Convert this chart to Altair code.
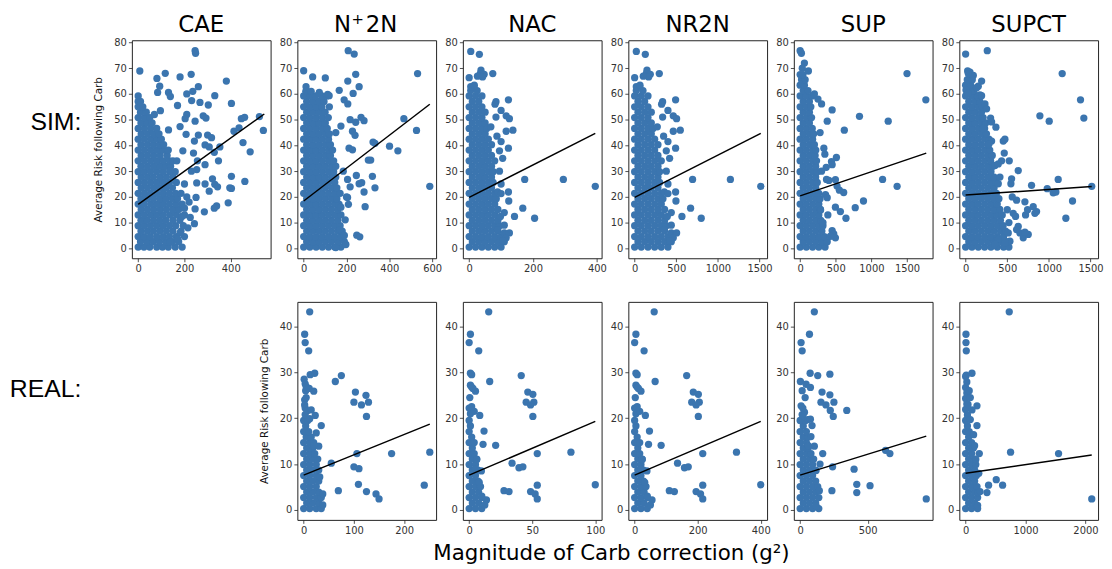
import altair as alt
import pandas as pd

BLUE = "#3b75af"

# ---------------- column / row labels ----------------
col_names = ["CAE", "N\u207a2N", "NAC", "NR2N", "SUP", "SUPCT"]
n2n_parts = ["N", "+", "2N"]
row_names = ["SIM:", "REAL:"]
y_title = "Average Risk following Carb"
x_title = "Magnitude of Carb correction (g\u00b2)"

# ---------------- axis ticks / domains ----------------
sim_y_ticks = [0, 10, 20, 30, 40, 50, 60, 70, 80]
real_y_ticks = [0, 10, 20, 30, 40]
sim_y_dom = [-3.85, 80.85]
real_y_dom = [-2.16, 45.36]
sim_x_ticks = [[0, 200, 400], [0, 200, 400, 600], [0, 200, 400],
               [0, 500, 1000, 1500], [0, 500, 1000, 1500], [0, 500, 1000, 1500]]
sim_x_dom = [[-27.3, 572.3], [-29.5, 618.5], [-19.75, 414.75],
             [-75.75, 1590.75], [-88.5, 1858.5], [-75.75, 1590.75]]
real_x_ticks = [[0, 100, 200], [0, 50, 100], [0, 200, 400], [0, 500], [0, 1000, 2000]]
real_x_dom = [[-12.55, 263.55], [-5, 105], [-20, 420], [-46.65, 979.65], [-105.25, 2210.25]]

# ---------------- regression lines (x0, y0, x1, y1) ----------------
sim_lines = [(0, 17.1, 545, 52.2), (0, 18.4, 589, 56.0), (0, 19.8, 395, 44.7),
             (0, 19.8, 1515, 44.7), (0, 20.4, 1770, 37.0), (0, 20.7, 1515, 24.0)]
real_lines = [(0, 7.6, 251, 18.7), (0, 7.6, 100, 19.3), (0, 7.6, 400, 19.3),
              (0, 7.6, 933, 16.1), (0, 8.0, 2105, 12.0)]

# ---------------- SIM data: dense rows (y, [x...]) + scattered (x, y) ----------------
sim_cae_dense = [
    (0.5, [0, 25, 50, 80, 105, 130, 160, 190]), (2.6, [10, 38, 65, 92, 120, 148, 175]),
    (4.6, [0, 25, 52, 80, 108, 135, 165, 200]), (6.7, [12, 40, 66, 94, 122, 150, 185]),
    (8.8, [0, 26, 53, 80, 107, 135, 162, 195]), (10.9, [12, 38, 66, 93, 120, 150, 180]),
    (13.0, [0, 27, 54, 80, 108, 136, 165, 200]), (15.1, [13, 40, 67, 95, 122, 150, 175]),
    (17.2, [0, 26, 54, 81, 108, 135, 162, 190]), (19.3, [12, 40, 66, 94, 120, 148, 170]),
    (21.4, [0, 27, 53, 80, 108, 135, 162, 185]), (23.5, [13, 40, 67, 94, 120, 148]),
    (25.6, [0, 27, 54, 81, 108, 135, 165]), (27.7, [13, 40, 66, 95, 122, 150]),
    (29.8, [0, 26, 53, 80, 108, 136, 160]), (31.9, [12, 40, 67, 94, 120, 140]),
    (34.0, [0, 27, 54, 81, 108, 135, 150]), (36.1, [13, 40, 67, 95, 125]),
    (38.2, [0, 27, 54, 81, 108, 130]), (40.3, [12, 40, 66, 92, 110]),
    (42.4, [0, 27, 54, 80, 100]), (44.5, [13, 40, 66, 90]),
    (46.6, [0, 27, 54, 80]), (48.7, [12, 38, 60]), (50.8, [0, 26, 50]),
    (52.9, [10, 35]), (55.0, [0, 20]), (57.1, [0, 10]), (59.2, [0]),
]
sim_cae_scatter = [
    (7, 68.9), (246, 76.8), (248, 75.8), (81, 66), (117, 68), (181, 66.6), (229, 67.6), (93, 63),
    (381, 65), (260, 62.8), (210, 60), (236, 61), (331, 59.3), (131, 60.6), (139, 59), (84, 60.6),
    (403, 56.3), (231, 57.4), (303, 55.7), (170, 55.5), (267, 56.7), (96, 53.5), (70, 52), (210, 52),
    (281, 51.5), (293, 50.6), (246, 49.4), (524, 51.2), (446, 50.4), (460, 50.9), (541, 45.8),
    (414, 45.5), (436, 46.8), (203, 50.4), (131, 46), (181, 47.3), (207, 44.3), (260, 44), (300, 44),
    (317, 43), (243, 41.7), (353, 39.4), (329, 37.3), (453, 41.1), (484, 37.5), (239, 37), (193, 37.9),
    (289, 40.2), (307, 39.4), (256, 34), (289, 32.5), (347, 34), (167, 34), (253, 30.6), (139, 30.2),
    (321, 27), (403, 28), (461, 26), (331, 24.9), (343, 23.9), (289, 25), (253, 25.4), (307, 22.2),
    (396, 23.5), (403, 23.3), (210, 20), (250, 19.8), (389, 17.7), (339, 16.5), (329, 15.6),
    (200, 15.6), (246, 15.3), (286, 14.2), (189, 12.4), (243, 9.6), (181, 6), (170, 3.8), (139, 2.4),
    (220, 18), (230, 30), (215, 8), (200, 25), (225, 12),
]

sim_n2n_dense = [
    (0.5, [0, 29, 58, 87, 116, 145, 174]), (2.6, [14, 43, 72, 101, 130, 160, 190]),
    (4.6, [0, 29, 58, 87, 116, 145, 174]), (6.7, [14, 43, 72, 101, 130, 160, 180]),
    (8.8, [0, 29, 58, 87, 116, 145, 170]), (10.9, [14, 43, 72, 101, 130, 160]),
    (13.0, [0, 29, 58, 87, 116, 145, 174]), (15.1, [14, 43, 72, 101, 130, 160]),
    (17.2, [0, 29, 58, 87, 116, 145, 165]), (19.3, [14, 43, 72, 101, 130, 155]),
    (21.4, [0, 29, 58, 87, 116, 145, 170]), (23.5, [14, 43, 72, 101, 130, 155]),
    (25.6, [0, 29, 58, 87, 116, 145]), (27.7, [14, 43, 72, 101, 130, 150]),
    (29.8, [0, 29, 58, 87, 116, 140]), (31.9, [14, 43, 72, 101, 130, 150]),
    (34.0, [0, 29, 58, 87, 116, 140]), (36.1, [14, 43, 72, 101, 125]),
    (38.2, [0, 29, 58, 87, 116, 135]), (40.3, [14, 43, 72, 101, 125]),
    (42.4, [0, 29, 58, 87, 116]), (44.5, [14, 43, 72, 101, 120]),
    (46.6, [0, 29, 58, 87, 110]), (48.7, [14, 43, 72, 101]),
    (50.8, [0, 29, 58, 87, 115]), (52.9, [14, 43, 72, 100]),
    (55.0, [0, 29, 58, 85, 120]), (57.1, [14, 43, 70, 95]),
    (59.2, [0, 29, 55, 85, 110]), (61.0, [10, 35]),
]
sim_n2n_scatter = [
    (0, 69), (42, 66.6), (101, 66.2), (11, 62.8), (208, 76.8), (236, 75.5), (243, 67.6), (206, 65),
    (259, 62.8), (166, 61.4), (231, 60.2), (73, 60.6), (112, 59.8), (119, 59.3), (189, 57.7),
    (206, 56.1), (532, 67.9), (268, 50.9), (282, 49.6), (217, 50), (243, 49), (468, 50.4), (527, 45.8),
    (228, 45.5), (240, 43.9), (324, 41.3), (333, 40.8), (401, 39.7), (440, 37.9), (212, 38.9),
    (228, 38.3), (150, 45), (174, 47.5), (302, 34.3), (313, 34.3), (321, 28), (246, 28.3), (205, 26.8),
    (217, 23.9), (259, 25.1), (271, 25.5), (333, 23.5), (589, 24.1), (282, 21.9), (205, 19.8),
    (209, 17.1), (287, 16.2), (174, 16), (194, 11.1), (169, 7.3), (248, 5.1), (262, 4.5), (197, 1.5),
    (150, 0.3), (185, 30), (200, 20), (190, 5),
]

sim_nac_dense = [
    (0.5, [0, 20, 40, 60, 80, 100]), (2.6, [10, 30, 50, 70, 90, 110]),
    (4.6, [0, 20, 40, 60, 80, 100]), (6.7, [10, 30, 50, 70, 90]),
    (8.8, [0, 20, 40, 60, 80, 95]), (10.9, [10, 30, 50, 70, 90]),
    (13.0, [0, 20, 40, 60, 80]), (15.1, [10, 30, 50, 70, 90]),
    (17.2, [0, 20, 40, 60, 80]), (19.3, [10, 30, 50, 70, 85]),
    (21.4, [0, 20, 40, 60, 80]), (23.5, [10, 30, 50, 70]),
    (25.6, [0, 20, 40, 60, 75]), (27.7, [10, 30, 50, 70]),
    (29.8, [0, 20, 40, 60, 75]), (31.9, [10, 30, 50, 70]),
    (34.0, [0, 20, 40, 60, 80]), (36.1, [10, 30, 50, 70]),
    (38.2, [0, 20, 40, 60]), (40.3, [10, 30, 50, 70]),
    (42.4, [0, 20, 40, 60]), (44.5, [10, 30, 50]),
    (46.6, [0, 20, 40, 55]), (48.7, [10, 30, 50]),
    (50.8, [0, 20, 40]), (52.9, [10, 30, 50]),
    (55.0, [0, 20, 40]), (57.1, [10, 30]),
    (59.2, [0, 20, 40]), (61.3, [5, 25]), (63.0, [15]),
]
sim_nac_scatter = [
    (5, 76.5), (32, 75.4), (0, 66.3), (37, 69.2), (35, 67.9), (47, 67.6), (42, 66.6), (26, 66.9),
    (74, 67.9), (5, 62.8), (16, 63.4), (84, 57), (81, 56), (123, 57.7), (100, 53.6), (116, 51.5),
    (126, 50.4), (84, 51), (137, 45.9), (116, 45.5), (68, 47.2), (100, 41.5), (123, 38.9), (87, 43.6),
    (95, 37.9), (174, 26.8), (295, 26.8), (395, 24.1), (89, 21.9), (100, 21.3), (123, 21.9),
    (124, 18.4), (98, 12.4), (110, 13.9), (142, 12.4), (168, 15.6), (205, 11.7), (110, 6), (126, 6),
    (116, 4.1), (89, 7.3), (105, 35), (95, 30), (100, 25), (105, 3), (110, 9),
]

sim_nr2n_dense = [
    (0.5, [0, 80, 160, 240, 320, 400]), (2.6, [40, 120, 200, 280, 360, 440]),
    (4.6, [0, 80, 160, 240, 320, 400]), (6.7, [40, 120, 200, 280, 360]),
    (8.8, [0, 80, 160, 240, 320, 380]), (10.9, [40, 120, 200, 280, 360]),
    (13.0, [0, 80, 160, 240, 320]), (15.1, [40, 120, 200, 280, 360]),
    (17.2, [0, 80, 160, 240, 320]), (19.3, [40, 120, 200, 280, 340]),
    (21.4, [0, 80, 160, 240, 320]), (23.5, [40, 120, 200, 280]),
    (25.6, [0, 80, 160, 240, 300]), (27.7, [40, 120, 200, 280]),
    (29.8, [0, 80, 160, 240, 300]), (31.9, [40, 120, 200, 280]),
    (34.0, [0, 80, 160, 240, 320]), (36.1, [40, 120, 200, 280]),
    (38.2, [0, 80, 160, 240]), (40.3, [40, 120, 200, 280]),
    (42.4, [0, 80, 160, 240]), (44.5, [40, 120, 200]),
    (46.6, [0, 80, 160, 220]), (48.7, [40, 120, 200]),
    (50.8, [0, 80, 160]), (52.9, [40, 120, 200]),
    (55.0, [0, 80, 160]), (57.1, [40, 120]),
    (59.2, [0, 80, 160]), (61.3, [20, 100]), (63.0, [60]),
]
sim_nr2n_scatter = [
    (20, 76.5), (128, 75.4), (0, 66.3), (148, 69.2), (140, 67.9), (188, 67.6), (168, 66.6),
    (104, 66.9), (296, 67.9), (20, 62.8), (64, 63.4), (336, 57), (324, 56), (492, 57.7), (400, 53.6),
    (464, 51.5), (504, 50.4), (336, 51), (548, 45.9), (464, 45.5), (272, 47.2), (400, 41.5),
    (492, 38.9), (348, 43.6), (380, 37.9), (696, 26.8), (1150, 26.8), (1515, 24.1), (356, 21.9),
    (400, 21.3), (492, 21.9), (496, 18.4), (392, 12.4), (440, 13.9), (568, 12.4), (672, 15.6),
    (800, 11.7), (440, 6), (504, 6), (464, 4.1), (356, 7.3), (420, 35), (380, 30), (400, 25),
    (420, 3), (440, 9),
]

sim_sup_dense = [
    (0.5, [0, 87, 175, 262, 350]), (2.6, [43, 130, 218, 305, 380]),
    (4.6, [0, 87, 175, 262, 340]), (6.7, [43, 130, 218, 305]),
    (8.8, [0, 87, 175, 262, 320]), (10.9, [43, 130, 218, 290]),
    (13.0, [0, 87, 175, 262]), (15.1, [43, 130, 218, 285]),
    (17.2, [0, 87, 175, 262]), (19.3, [43, 130, 218, 280]),
    (21.4, [0, 87, 175, 262]), (23.5, [43, 130, 218]),
    (25.6, [0, 87, 175, 240]), (27.7, [43, 130, 218]),
    (29.8, [0, 87, 175, 240]), (31.9, [43, 130, 218]),
    (34.0, [0, 87, 175, 230]), (36.1, [43, 130, 210]),
    (38.2, [0, 87, 175, 220]), (40.3, [43, 130, 200]),
    (42.4, [0, 87, 175]), (44.5, [43, 130, 190]),
    (46.6, [0, 87, 170]), (48.7, [43, 130]),
    (50.8, [0, 87, 160]), (52.9, [43, 130]),
    (55.0, [0, 87, 150]), (57.1, [43, 130]),
    (59.2, [0, 87, 170]), (61.3, [43, 110]),
    (63.4, [0, 60]), (65.5, [20, 70]), (67.5, [0, 40]),
]
sim_sup_scatter = [
    (0, 76.8), (18, 75.8), (116, 68.9), (1500, 67.9), (1764, 57.7), (301, 56.1), (449, 53.8),
    (380, 49.4), (833, 51.3), (1236, 49.4), (620, 45.9), (333, 38.9), (347, 36.6), (509, 35.3),
    (440, 33.7), (449, 32.5), (366, 31.5), (1157, 26.8), (1361, 24.1), (370, 26.8), (403, 26.4),
    (495, 26.7), (518, 24.2), (551, 22.6), (611, 21.7), (356, 20.9), (380, 19.7), (889, 18.4),
    (773, 15.8), (495, 16), (565, 14.3), (287, 14.9), (643, 11.7), (389, 13), (449, 6.9), (472, 5.6),
    (495, 4.1), (426, 4.7), (300, 30), (320, 10), (280, 45), (250, 58), (200, 60), (60, 72), (30, 70),
]

sim_supct_dense = [
    (0.5, [0, 76, 152, 228, 304, 380, 456, 520]), (2.6, [38, 114, 190, 266, 342, 418, 490]),
    (4.6, [0, 76, 152, 228, 304, 380, 456]), (6.7, [38, 114, 190, 266, 342, 418, 480]),
    (8.8, [0, 76, 152, 228, 304, 380, 450]), (10.9, [38, 114, 190, 266, 342, 418]),
    (13.0, [0, 76, 152, 228, 304, 380, 440]), (15.1, [38, 114, 190, 266, 342, 410]),
    (17.2, [0, 76, 152, 228, 304, 380]), (19.3, [38, 114, 190, 266, 342, 400]),
    (21.4, [0, 76, 152, 228, 304, 370]), (23.5, [38, 114, 190, 266, 342]),
    (25.6, [0, 76, 152, 228, 304, 370]), (27.7, [38, 114, 190, 266, 342]),
    (29.8, [0, 76, 152, 228, 304]), (31.9, [38, 114, 190, 266, 330]),
    (34.0, [0, 76, 152, 228, 300]), (36.1, [38, 114, 190, 266, 320]),
    (38.2, [0, 76, 152, 228, 290]), (40.3, [38, 114, 190, 266]),
    (42.4, [0, 76, 152, 228, 280]), (44.5, [38, 114, 190, 250]),
    (46.6, [0, 76, 152, 228]), (48.7, [38, 114, 190, 240]),
    (50.8, [0, 76, 152, 210]), (52.9, [38, 114, 190]),
    (55.0, [0, 76, 152, 200]), (57.1, [38, 114, 170]),
    (59.2, [0, 76, 140]), (61.3, [38, 100]), (63.4, [0, 60]), (65.5, [20, 80]),
]
sim_supct_scatter = [
    (0, 75.5), (260, 76.8), (24, 68.9), (52, 68.5), (92, 67.2), (32, 67.9), (192, 65), (152, 63),
    (132, 62.4), (4, 61.5), (32, 60.2), (152, 59), (172, 59.6), (192, 59.3), (232, 56.1), (252, 54.2),
    (1160, 67.9), (1380, 57.7), (892, 51.5), (1004, 49.4), (1420, 50.6), (300, 50.6), (312, 49.1),
    (364, 47.1), (212, 46.6), (452, 41.7), (472, 42.4), (312, 41.7), (280, 40.5), (464, 37),
    (432, 34), (524, 34), (352, 32.2), (392, 32.8), (632, 30.2), (552, 27), (544, 25.1), (392, 25.1),
    (412, 27.7), (1112, 26.8), (1515, 24.1), (792, 24.5), (980, 23.2), (1052, 21.6), (1084, 21.9),
    (1284, 18.4), (1204, 11.7), (612, 18.7), (712, 18.1), (720, 13), (744, 15), (812, 16.2),
    (832, 13.6), (852, 14.3), (572, 13.6), (600, 12.4), (632, 8.5), (612, 7.3), (652, 6), (692, 4.1),
    (752, 5.4), (712, 6.3), (512, 6), (532, 2.8), (472, 2.2), (392, 3.5), (352, 1.5), (560, 20),
    (500, 15), (520, 10),
]

# ---------------- REAL data ----------------
real_n2n_dense = [
    (0.3, [0, 12, 25, 35]), (1.5, [6, 18, 30]), (2.7, [0, 12, 25, 35]), (3.9, [6, 18, 30]),
    (5.1, [0, 12, 25]), (6.3, [6, 18, 30]), (7.5, [0, 12, 25]), (8.7, [6, 18, 30]),
    (9.9, [0, 12, 25]), (11.1, [6, 18, 28]), (12.3, [0, 12, 22]), (13.5, [6, 18]),
    (14.7, [0, 12, 20]), (15.9, [5, 15]), (17.1, [0, 10]), (18.3, [4]), (19.5, [0, 8]),
    (20.8, [3]), (24.0, [2]), (26.0, [4]), (28.5, [1]),
]
real_n2n_scatter = [
    (12, 43.2), (2, 38.3), (3, 36.5), (10, 34.7), (13, 29.5), (22, 29.8), (3, 27.5), (5, 26.9),
    (11, 26.5), (20, 25.9), (5, 24.5), (2, 22.9), (3, 22.2), (7, 21.6), (15, 21.8), (12, 19.9),
    (23, 20.6), (35, 18.4), (30, 13.9), (63, 28), (75, 29.3), (100, 23.5), (103, 25.7), (115, 22.9),
    (124, 25), (129, 23.5), (125, 20.4), (106, 12.3), (100, 9.4), (110, 9), (175, 12.3), (251, 12.6),
    (240, 5.4), (109, 5.6), (125, 4), (144, 3.5), (150, 2.4), (69, 4.2), (55, 10.2), (32, 7.2),
    (38, 3.5), (38, 1.1), (25, 16.8), (20, 14),
]

real_nac_dense = [
    (0.3, [0, 5, 10]), (1.5, [2.5, 7.5]), (2.7, [0, 5, 10]), (3.9, [2.5, 7.5]), (5.1, [0, 5, 9]),
    (6.3, [2.5, 7]), (7.5, [0, 5]), (8.7, [2.5, 7]), (9.9, [0, 5]), (11.1, [2.5, 6]), (12.3, [0, 4]),
    (13.5, [2.5]), (14.7, [0, 4]), (15.9, [2]), (17.1, [0]), (18.3, [1]), (19.5, [0]), (21.0, [1]),
    (22.2, [0]),
]
real_nac_scatter = [
    (15.5, 43.2), (1, 38.3), (0, 36.5), (7.6, 34.7), (1, 29.8), (2, 29.5), (1, 27.2), (2, 26.8),
    (3, 26.5), (5, 25.9), (16.3, 28), (41.3, 29.3), (46.5, 25.7), (50.5, 25.2), (51.3, 23.5),
    (45.2, 23.5), (48.7, 22.9), (50.5, 20.4), (0.5, 24.5), (8.4, 20.6), (11.8, 17.2), (11, 14.3),
    (21, 14.1), (54, 12.3), (80.7, 12.6), (100, 5.5), (34, 10.2), (39.5, 9.2), (42.6, 9.4), (9.7, 8.5),
    (27.6, 4.2), (31.6, 4), (48.7, 4), (52.3, 3.5), (54, 2.4), (54, 5.4), (13.7, 2.2), (12.4, 1.1),
    (6, 11), (5, 9), (8, 6), (10, 3), (4, 21.5), (2, 22.5),
]

real_nr2n_dense = [
    (0.3, [0, 20, 40]), (1.5, [10, 30]), (2.7, [0, 20, 40]), (3.9, [10, 30]), (5.1, [0, 20, 36]),
    (6.3, [10, 28]), (7.5, [0, 20]), (8.7, [10, 28]), (9.9, [0, 20]), (11.1, [10, 24]), (12.3, [0, 16]),
    (13.5, [10]), (14.7, [0, 16]), (15.9, [8]), (17.1, [0]), (18.3, [4]), (19.5, [0]), (21.0, [4]),
    (22.2, [0]),
]
real_nr2n_scatter = [
    (62, 43.2), (4, 38.3), (0, 36.5), (30, 34.7), (4, 29.8), (8, 29.5), (4, 27.2), (8, 26.8),
    (12, 26.5), (20, 25.9), (65, 28), (165, 29.3), (186, 25.7), (202, 25.2), (205, 23.5), (181, 23.5),
    (195, 22.9), (202, 20.4), (2, 24.5), (34, 20.6), (47, 17.2), (44, 14.3), (84, 14.1), (216, 12.3),
    (323, 12.6), (400, 5.5), (136, 10.2), (158, 9.2), (170, 9.4), (39, 8.5), (110, 4.2), (126, 4),
    (195, 4), (209, 3.5), (216, 2.4), (216, 5.4), (55, 2.2), (50, 1.1), (24, 11), (20, 9), (32, 6),
    (40, 3), (16, 21.5), (8, 22.5),
]

real_sup_dense = [
    (0.3, [0, 46, 92, 138]), (1.5, [23, 69, 115]), (2.7, [0, 46, 92, 138]), (3.9, [23, 69, 115]),
    (5.1, [0, 46, 92, 130]), (6.3, [23, 69, 115]), (7.5, [0, 46, 92]), (8.7, [23, 69, 110]),
    (9.9, [0, 46, 92]), (11.1, [23, 69, 100]), (12.3, [0, 46, 80]), (13.5, [23, 60]),
    (14.7, [0, 46]), (15.9, [23, 60]), (17.1, [0, 46]), (18.3, [23]), (19.5, [0, 40]), (20.8, [15]),
]
real_sup_scatter = [
    (105, 43.2), (69, 38.3), (7, 36.5), (15, 34.7), (74, 29.8), (130, 29.3), (220, 29.6), (2, 28),
    (15, 26), (44, 27.4), (76, 26.7), (162, 25.7), (220, 25.1), (250, 23.5), (154, 23.5), (191, 22.9),
    (223, 21.7), (245, 20.4), (345, 21.7), (37, 24.5), (7, 22.7), (20, 22.2), (32, 21.3), (20, 20.6),
    (56, 19.7), (76, 19.8), (88, 18.4), (105, 13.9), (167, 12.3), (240, 9.4), (399, 8.9), (632, 13),
    (664, 12.3), (419, 5.6), (419, 3.8), (517, 5.3), (235, 4.2), (933, 2.4), (147, 10), (118, 8.6),
    (142, 4.2), (118, 0.9), (80, 16), (60, 14),
]

real_supct_dense = [
    (0.3, [0, 100, 200]), (1.5, [50, 150]), (2.7, [0, 100, 200]), (3.9, [50, 150]),
    (5.1, [0, 100, 190]), (6.3, [50, 150]), (7.5, [0, 100, 180]), (8.7, [50, 150]),
    (9.9, [0, 100, 170]), (11.1, [50, 150]), (12.3, [0, 100]), (13.5, [50, 130]), (14.7, [0, 100]),
    (15.9, [50]), (17.1, [0, 60]), (18.3, [30]), (19.5, [0]), (20.7, [30]), (21.9, [0]), (23.1, [20]),
    (24.3, [0]), (25.5, [20]), (26.7, [0]), (27.9, [20]), (29.1, [0]),
]
real_supct_scatter = [
    (728, 43.2), (6, 38.3), (6, 36.5), (11, 34.7), (106, 29.8), (11, 29.4), (78, 24.5), (189, 22.7),
    (189, 18.4), (133, 16.4), (228, 12.3), (750, 12.6), (1551, 12.3), (2105, 2.4), (356, 3.8),
    (383, 5.4), (511, 6.6), (617, 5.4), (206, 3.8), (78, 19.7), (106, 21.8), (150, 14), (170, 11),
    (220, 8), (240, 4), (200, 1), (60, 26), (40, 23),
]

sim_sets = [(sim_cae_dense, sim_cae_scatter), (sim_n2n_dense, sim_n2n_scatter),
            (sim_nac_dense, sim_nac_scatter), (sim_nr2n_dense, sim_nr2n_scatter),
            (sim_sup_dense, sim_sup_scatter), (sim_supct_dense, sim_supct_scatter)]
real_sets = [(real_n2n_dense, real_n2n_scatter), (real_nac_dense, real_nac_scatter),
             (real_nr2n_dense, real_nr2n_scatter), (real_sup_dense, real_sup_scatter),
             (real_supct_dense, real_supct_scatter)]

W, H = 140, 220
TITLE_SIZE = 23


def make_df(dense, scatter):
    xs, ys = [], []
    for y, row in dense:
        for x in row:
            xs.append(x)
            ys.append(y)
    for x, y in scatter:
        xs.append(x)
        ys.append(y)
    return pd.DataFrame({"x": xs, "y": ys})


def text_layer(txt, x, y, size, font, align="center", baseline="middle"):
    return alt.Chart(pd.DataFrame({"t": [txt]})).mark_text(
        align=align, baseline=baseline, fontSize=size, font=font, color="black"
    ).encode(x=alt.value(x), y=alt.value(y), text="t:N")


def panel(dense, scatter, line, xdom, xticks, ydom, yticks, ytitle, texts):
    X = alt.X("x:Q", scale=alt.Scale(domain=xdom, nice=False, zero=False),
              axis=alt.Axis(values=xticks, title=None, format="d"))
    if ytitle:
        yaxis = alt.Axis(values=yticks, title=ytitle, format="d")
    else:
        yaxis = alt.Axis(values=yticks, title=None, format="d")
    Y = alt.Y("y:Q", scale=alt.Scale(domain=ydom, nice=False, zero=False), axis=yaxis)
    pts = alt.Chart(make_df(dense, scatter)).mark_circle(
        size=54, color=BLUE, opacity=1).encode(x=X, y=Y)
    ln = alt.Chart(pd.DataFrame({"x": [line[0], line[2]], "y": [line[1], line[3]]})).mark_line(
        color="black", strokeWidth=1.5).encode(x=X, y=Y)
    return alt.layer(pts, ln, *texts).properties(width=W, height=H)


panels = []
for i in range(6):
    if i == 1:
        texts = [
            text_layer(n2n_parts[0], 37, -8, TITLE_SIZE, "DejaVu Sans", align="left", baseline="alphabetic"),
            text_layer(n2n_parts[1], 61, -16, 15, "DejaVu Sans", align="center", baseline="alphabetic"),
            text_layer(n2n_parts[2], 69, -8, TITLE_SIZE, "DejaVu Sans", align="left", baseline="alphabetic"),
        ]
    else:
        texts = [text_layer(col_names[i], W / 2, -8, TITLE_SIZE, "DejaVu Sans", baseline="alphabetic")]
    if i == 0:
        texts.append(text_layer(row_names[0], -51, 83, 25, "Liberation Sans", align="right"))
    d, s = sim_sets[i]
    panels.append(panel(d, s, sim_lines[i], sim_x_dom[i], sim_x_ticks[i],
                        sim_y_dom, sim_y_ticks, y_title if i == 0 else None, texts))

placeholder = text_layer(row_names[1], -51, 88, 25, "Liberation Sans", align="right").properties(
    width=W, height=H, view=alt.ViewBackground(strokeOpacity=0))
panels.append(placeholder)

for i in range(5):
    texts = []
    if i == 1:
        texts.append(text_layer(x_title, 150, 254, 21.5, "DejaVu Sans"))
    d, s = real_sets[i]
    panels.append(panel(d, s, real_lines[i], real_x_dom[i], real_x_ticks[i],
                        real_y_dom, real_y_ticks, y_title if i == 0 else None, texts))

chart = alt.concat(*panels, columns=6, spacing={"row": 44, "column": 27}, bounds="flush").properties(
    padding={"left": 1, "top": 1, "right": 0, "bottom": 0}, background="white"
).configure_view(stroke="#222", strokeWidth=1).configure_axis(
    domain=False, grid=False, ticks=True, tickSize=3.5, tickColor="#222", tickWidth=0.8,
    labelFont="DejaVu Sans", labelFontSize=10, labelColor="#333", labelPadding=2,
    labelOverlap=False, labelFlush=False,
    titleFont="DejaVu Sans", titleFontSize=10.5, titleFontWeight="normal", titleColor="#111",
    titlePadding=10
)

chart.save("out.html", embed_options={"renderer": "svg", "actions": False})
